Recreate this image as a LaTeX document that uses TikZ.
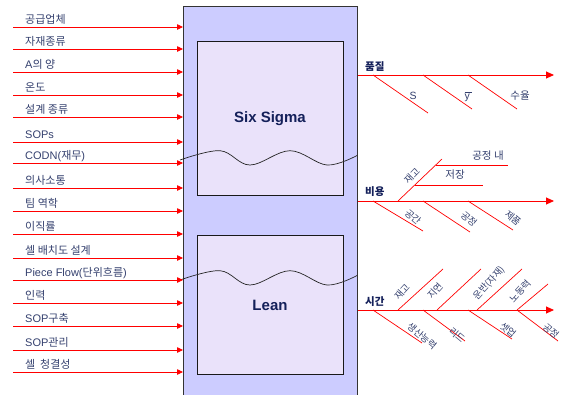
\documentclass[tikz,border=0pt]{standalone}
\usepackage{fontspec}
\setmainfont{Liberation Sans}
\newfontfamily\kr{Noto Sans CJK KR}
\usetikzlibrary{arrows.meta}
\definecolor{redline}{HTML}{FF0000}
\definecolor{colfill}{HTML}{CCCCFF}
\definecolor{boxfill}{HTML}{EAE2FA}
\definecolor{ink}{HTML}{34406E}
\definecolor{navy}{HTML}{14205A}
\newcommand\K[1]{{\kr #1}}
% a straight fishbone segment between two named coordinates
\newcommand\bone[3]{\coordinate (#1a) at (#2); \coordinate (#1b) at (#3); \draw[bonestroke] (#1a) -- (#1b);}

\begin{document}
\begin{tikzpicture}[x=1pt,y=-1pt,
  feed/.style={draw=redline, line width=0.8pt, -{Triangle[length=6pt,width=5.5pt]}},
  spine/.style={draw=redline, line width=0.9pt, -{Triangle[length=8pt,width=7pt]}},
  bonestroke/.style={draw=redline, line width=0.7pt},
  cause/.style={anchor=base west, inner sep=0pt, text=ink, font=\fontsize{11}{13}\selectfont},
  effect/.style={anchor=base west, inner sep=0pt, text=navy, font=\fontsize{10.5}{12}\selectfont\bfseries},
  factor/.style={inner sep=0pt, text=ink, font=\fontsize{10.5}{12}\selectfont},
  tilt/.style={inner sep=0pt, text=ink, font=\fontsize{9.5}{11}\selectfont},
  column/.style={draw=black!80, fill=colfill, line width=0.8pt, inner sep=0pt, anchor=north west},
  method/.style={draw=black!90, fill=boxfill, line width=0.8pt, inner sep=0pt, anchor=north west},
  methodname/.style={text=navy, font=\fontsize{15}{18}\selectfont\bfseries},
  wave/.style={draw=black!85, line width=0.7pt}
]
\clip (0,0) rectangle (565,394);

% central column with the two method boxes
\node[column, minimum width=174pt, minimum height=420pt] (col) at (183,6) {};
\node[method, minimum width=146pt, minimum height=154pt] (ss) at (197,41) {};
\node[method, minimum width=146pt, minimum height=139pt] (ln) at (197,235) {};
\node[methodname] (sstxt) at (270,119) {Six Sigma};
\node[methodname] (lntxt) at (270,305) {Lean};

% wavy breaks across the column
\draw[wave] plot[smooth, tension=0.6] coordinates {(180,160) (220,150.7) (250,165) (290,150.7) (327,165) (357,155.5)};
\draw[wave] plot[smooth, tension=0.6] coordinates {(180,280) (220,270.7) (250,285) (290,270.7) (327,285) (357,275.5)};

% input factors feeding the column
\foreach \y/\t [count=\i] in {
  27/\K{공급업체}, 49/\K{자재종류}, 72/A\K{의 양}, 95/\K{온도},
  117/\K{설계 종류}, 142/SOPs, 163/CODN(\K{재무}), 188/\K{의사소통},
  211/\K{팀 역학}, 234/\K{이직률}, 258/\K{셀 배치도 설계}, 280/Piece Flow(\K{단위흐름}),
  303/\K{인력}, 326/SOP\K{구축}, 350/SOP\K{관리}, 372/\K{셀 \ 청결성}} {
  \coordinate (src\i) at (13,\y);
  \node[cause] (lab\i) at (25,\y-3.5) {\t};
  \draw[feed] (src\i) -- (src\i -| col.west);
}

% quality
\coordinate (qend) at (554,75);
\draw[spine] (qend -| col.east) -- (qend);
\node[effect] (quality) at (365,70) {\K{품질}};
\bone{q1}{373,75}{428,113}
\bone{q2}{423,75}{472,109}
\bone{q3}{468,75}{517,109}
\node[factor] (qs) at (413,96) {S};
\node[factor] (qy) at (468,96.5) {$\overline{\hbox{y\,}}$};
\node[factor] (qr) at (520,96) {\K{수율}};

% cost
\coordinate (cend) at (554,201);
\draw[spine] (cend -| col.east) -- (cend);
\node[effect] (cost) at (365,195.5) {\K{비용}};
\bone{c1}{373,201}{423,231}
\bone{c2}{423,201}{470,232}
\bone{c3}{468,201}{513,230}
\bone{cu}{398,201}{442,159}
\bone{cb1}{436,165}{508,165}
\bone{cb2}{415,185}{483,185}
\node[factor] (cin) at (488,156) {\K{공정 내}};
\node[factor] (cst) at (455,175) {\K{저장}};
\node[tilt, rotate=46] (cinv) at (412,176) {\K{재고}};
\node[tilt, rotate=-40] (csp) at (413,217) {\K{공간}};
\node[tilt, rotate=-40] (cpr) at (469,219) {\K{공정}};
\node[tilt, rotate=-40] (cpd) at (513,218) {\K{제품}};

% time
\coordinate (tend) at (554,310);
\draw[spine] (tend -| col.east) -- (tend);
\node[effect] (time) at (365,305) {\K{시간}};
\bone{t1}{373,310}{422,343}
\bone{t2}{423,310}{465,341}
\bone{t3}{468,310}{512,339}
\bone{t4}{517,310}{558,341}
\bone{u1}{398,310}{443,269}
\bone{u2}{437,310}{481,269}
\bone{u3}{477,310}{522,269}
\bone{u4}{517,310}{548,284}
\node[tilt, rotate=48] (tinv) at (402,292) {\K{재고}};
\node[tilt, rotate=48] (tdel) at (435,291) {\K{지연}};
\node[tilt, rotate=48] (tmov) at (489,283) {\K{운반(자재)}};
\node[tilt, rotate=48] (tlab) at (520,291) {\K{노동력}};
\node[tilt, rotate=-40] (tcap) at (422,336) {\K{생산능력}};
\node[tilt, rotate=-40] (tlead) at (457,335) {\K{리드}};
\node[tilt, rotate=-40] (tset) at (508,330) {\K{셋업}};
\node[tilt, rotate=-40] (tproc) at (551,331) {\K{공정}};
\end{tikzpicture}
\end{document}
